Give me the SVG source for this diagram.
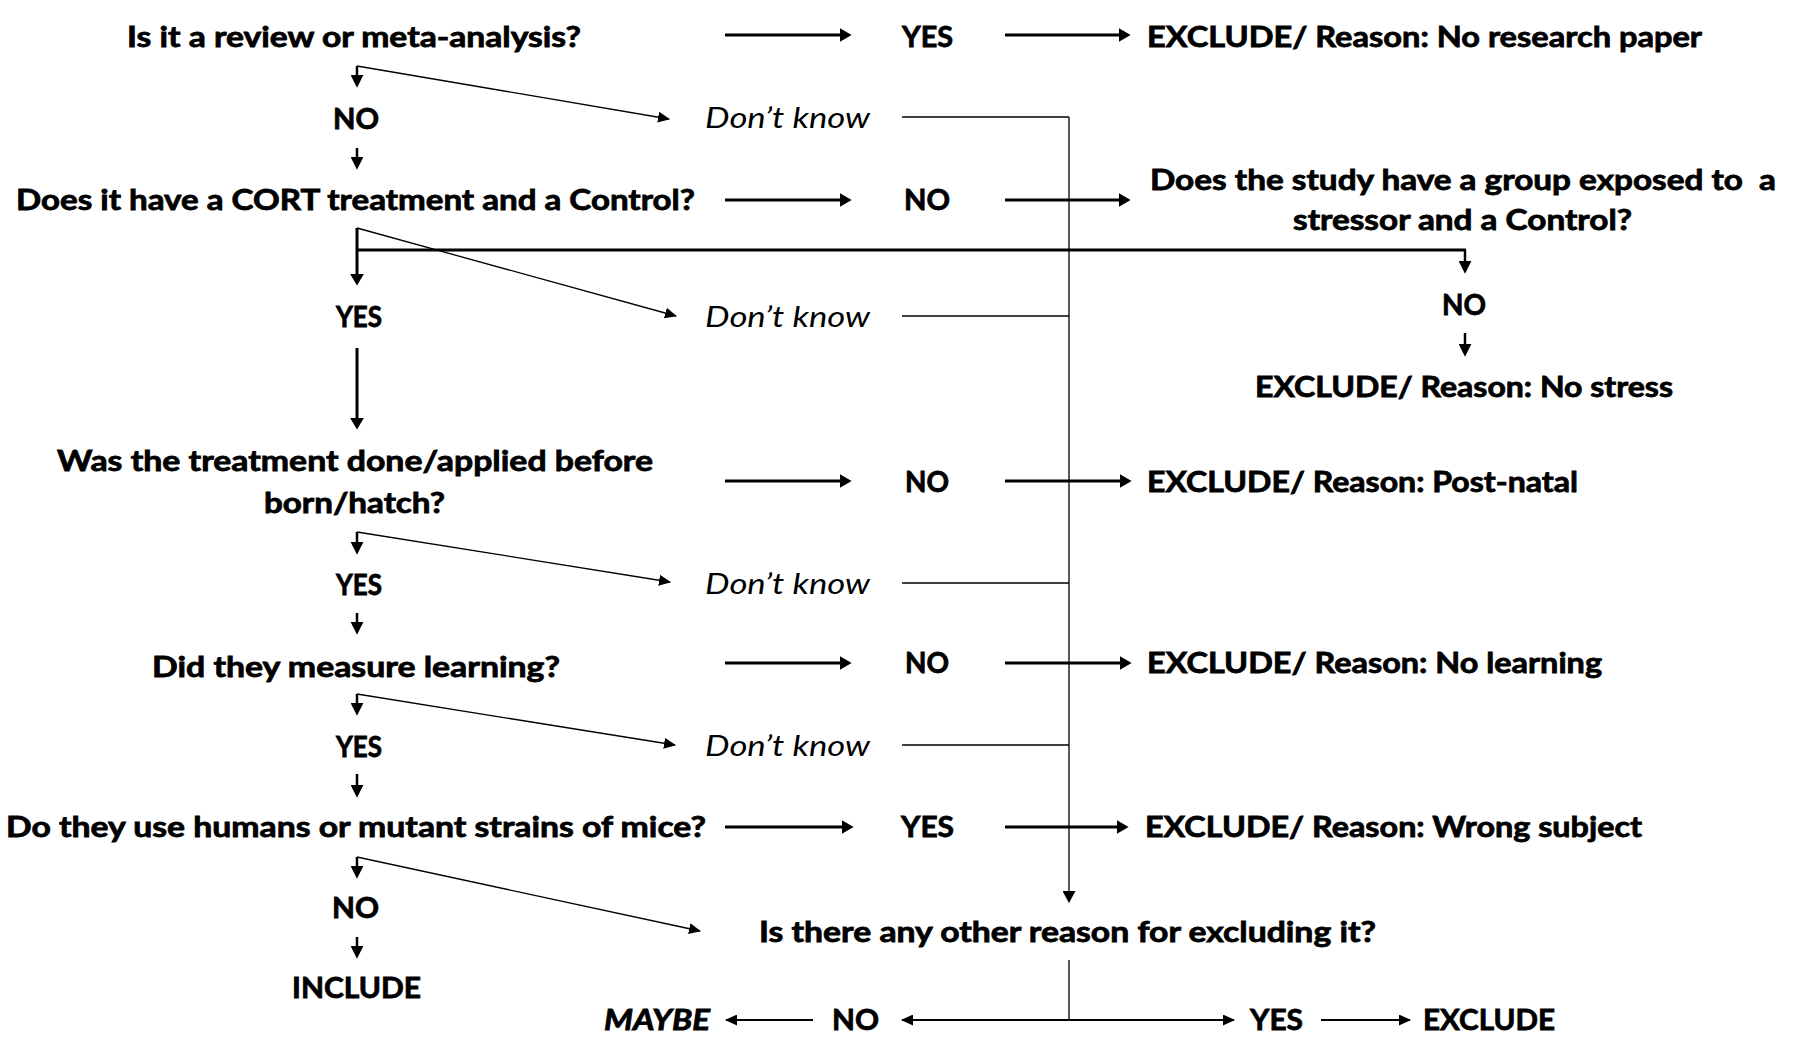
<svg xmlns="http://www.w3.org/2000/svg" width="1795" height="1050" viewBox="0 0 1795 1050">
<style>
text{font-family:Lato,"Open Sans","Liberation Sans",sans-serif;font-size:29px;fill:#000}
.b{font-weight:700;stroke:#000;stroke-width:0.8}
.i{font-style:italic;font-weight:400}
.bi{font-style:italic;font-weight:700;stroke:#000;stroke-width:0.8}
.thick{stroke:#000;stroke-width:3;fill:none}
.mid{stroke:#000;stroke-width:2.5;fill:none}
.thin{stroke:#000;stroke-width:1.3;fill:none}
.bot{stroke:#000;stroke-width:2;fill:none}
</style>
<defs>
<marker id="ah" markerUnits="userSpaceOnUse" markerWidth="12" markerHeight="14" viewBox="0 0 11 13" refX="3" refY="6.5" orient="auto"><path d="M0,0 L11,6.5 L0,13 z" fill="#000"/></marker>
<marker id="as" markerUnits="userSpaceOnUse" markerWidth="13" markerHeight="13" viewBox="0 0 12 12" refX="3" refY="6" orient="auto"><path d="M0,0 L12,6 L0,12 z" fill="#000"/></marker>
<marker id="at" markerUnits="userSpaceOnUse" markerWidth="12" markerHeight="11" viewBox="0 0 12 11" refX="11" refY="5.5" orient="auto"><path d="M0,0 L12,5.5 L0,11 z" fill="#000"/></marker>
<marker id="ab" markerUnits="userSpaceOnUse" markerWidth="12" markerHeight="13" viewBox="0 0 12 13" refX="11" refY="6.5" orient="auto"><path d="M0,0 L12,6.5 L0,13 z" fill="#000"/></marker>
<marker id="ao" markerUnits="userSpaceOnUse" markerWidth="12" markerHeight="11" viewBox="0 0 12 11" refX="11" refY="5.5" orient="auto"><path d="M0,0 L12,5.5 L0,11 z" fill="#000"/></marker>
</defs>
<rect width="1795" height="1050" fill="#fff"/>

<g id="connectors">
<path class="thick" d="M725,35 H843" marker-end="url(#ah)"/>
<path class="thick" d="M1005,35 H1122" marker-end="url(#ah)"/>
<path class="thick" d="M725,200 H843" marker-end="url(#ah)"/>
<path class="thick" d="M1005,200 H1122" marker-end="url(#ah)"/>
<path class="thick" d="M725,481 H843" marker-end="url(#ah)"/>
<path class="thick" d="M1005,481 H1123" marker-end="url(#ah)"/>
<path class="thick" d="M725,663 H843" marker-end="url(#ah)"/>
<path class="thick" d="M1005,663 H1123" marker-end="url(#ah)"/>
<path class="thick" d="M725,827 H845" marker-end="url(#ah)"/>
<path class="thick" d="M1005,827 H1120" marker-end="url(#ah)"/>
<path class="mid" d="M357,66 V78" marker-end="url(#as)"/>
<path class="mid" d="M357,148 V160" marker-end="url(#as)"/>
<path class="thick" d="M357,228 V277" marker-end="url(#ah)"/>
<path class="thick" d="M357,348 V421" marker-end="url(#ah)"/>
<path class="mid" d="M357,532 V545" marker-end="url(#as)"/>
<path class="mid" d="M357,613 V625" marker-end="url(#as)"/>
<path class="mid" d="M357,694 V706" marker-end="url(#as)"/>
<path class="mid" d="M357,774 V788" marker-end="url(#as)"/>
<path class="mid" d="M357,857 V869" marker-end="url(#as)"/>
<path class="mid" d="M357,937 V949" marker-end="url(#as)"/>
<path class="thin" d="M357,66 L669,119" marker-end="url(#at)"/>
<path class="thin" d="M357,228 L676,316" marker-end="url(#at)"/>
<path class="thin" d="M357,532 L670,582" marker-end="url(#at)"/>
<path class="thin" d="M357,694 L675,745" marker-end="url(#at)"/>
<path class="thin" d="M357,857 L700,931" marker-end="url(#at)"/>
<path class="thick" d="M357,250 H1466"/>
<path class="mid" d="M1465,250 V264" marker-end="url(#as)"/>
<path class="mid" d="M1465,333 V347" marker-end="url(#as)"/>
<path class="thin" d="M902,117 H1069"/>
<path class="thin" d="M902,316 H1069"/>
<path class="thin" d="M902,583 H1069"/>
<path class="thin" d="M902,745 H1069"/>
<path class="thin" d="M1069,117 V902" marker-end="url(#ab)"/>
<path class="thin" d="M1069,960 V1020"/>
<path class="bot" d="M1069,1020 H902" marker-end="url(#ao)"/>
<path class="bot" d="M1069,1020 H1234" marker-end="url(#ao)"/>
<path class="bot" d="M813,1020 H726" marker-end="url(#ao)"/>
<path class="bot" d="M1321,1020 H1410" marker-end="url(#ao)"/>
</g>

<g id="q1"><text class="b" x="127" y="47" textLength="454" lengthAdjust="spacingAndGlyphs">Is it a review or meta-analysis?</text></g>
<g id="q1-yes"><text class="b" x="902" y="47" textLength="51" lengthAdjust="spacingAndGlyphs">YES</text></g>
<g id="excl-research"><text class="b" x="1147" y="47" textLength="555" lengthAdjust="spacingAndGlyphs">EXCLUDE/ Reason: No research paper</text></g>
<g id="q1-no"><text class="b" x="333" y="129" textLength="46" lengthAdjust="spacingAndGlyphs">NO</text></g>
<g id="dk1"><text class="i" x="705" y="128" textLength="165" lengthAdjust="spacingAndGlyphs">Don’t know</text></g>

<g id="q2"><text class="b" x="16" y="210" textLength="679" lengthAdjust="spacingAndGlyphs">Does it have a CORT treatment and a Control?</text></g>
<g id="q2-no"><text class="b" x="904" y="210" textLength="46" lengthAdjust="spacingAndGlyphs">NO</text></g>
<g id="q-stressor">
<text class="b" x="1150" y="190" textLength="626" lengthAdjust="spacingAndGlyphs" xml:space="preserve">Does the study have a group exposed to  a</text>
<text class="b" x="1293" y="230" textLength="339" lengthAdjust="spacingAndGlyphs">stressor and a Control?</text>
</g>
<g id="q2-yes"><text class="b" x="336" y="327" textLength="46" lengthAdjust="spacingAndGlyphs">YES</text></g>
<g id="dk2"><text class="i" x="705" y="327" textLength="165" lengthAdjust="spacingAndGlyphs">Don’t know</text></g>
<g id="stressor-no"><text class="b" x="1442" y="315" textLength="44" lengthAdjust="spacingAndGlyphs">NO</text></g>
<g id="excl-stress"><text class="b" x="1255" y="397" textLength="418" lengthAdjust="spacingAndGlyphs">EXCLUDE/ Reason: No stress</text></g>

<g id="q3">
<text class="b" x="57" y="471" textLength="596" lengthAdjust="spacingAndGlyphs">Was the treatment done/applied before</text>
<text class="b" x="264" y="513" textLength="181" lengthAdjust="spacingAndGlyphs">born/hatch?</text>
</g>
<g id="q3-no"><text class="b" x="905" y="492" textLength="44" lengthAdjust="spacingAndGlyphs">NO</text></g>
<g id="excl-postnatal"><text class="b" x="1147" y="492" textLength="431" lengthAdjust="spacingAndGlyphs">EXCLUDE/ Reason: Post-natal</text></g>
<g id="q3-yes"><text class="b" x="336" y="595" textLength="46" lengthAdjust="spacingAndGlyphs">YES</text></g>
<g id="dk3"><text class="i" x="705" y="594" textLength="165" lengthAdjust="spacingAndGlyphs">Don’t know</text></g>

<g id="q4"><text class="b" x="152" y="677" textLength="408" lengthAdjust="spacingAndGlyphs">Did they measure learning?</text></g>
<g id="q4-no"><text class="b" x="905" y="673" textLength="44" lengthAdjust="spacingAndGlyphs">NO</text></g>
<g id="excl-learning"><text class="b" x="1147" y="673" textLength="455" lengthAdjust="spacingAndGlyphs">EXCLUDE/ Reason: No learning</text></g>
<g id="q4-yes"><text class="b" x="336" y="757" textLength="46" lengthAdjust="spacingAndGlyphs">YES</text></g>
<g id="dk4"><text class="i" x="705" y="756" textLength="165" lengthAdjust="spacingAndGlyphs">Don’t know</text></g>

<g id="q5"><text class="b" x="6" y="837" textLength="700" lengthAdjust="spacingAndGlyphs">Do they use humans or mutant strains of mice?</text></g>
<g id="q5-yes"><text class="b" x="901" y="837" textLength="53" lengthAdjust="spacingAndGlyphs">YES</text></g>
<g id="excl-subject"><text class="b" x="1145" y="837" textLength="497" lengthAdjust="spacingAndGlyphs">EXCLUDE/ Reason: Wrong subject</text></g>
<g id="q5-no"><text class="b" x="332" y="918" textLength="47" lengthAdjust="spacingAndGlyphs">NO</text></g>
<g id="q6"><text class="b" x="759" y="942" textLength="617" lengthAdjust="spacingAndGlyphs">Is there any other reason for excluding it?</text></g>
<g id="include"><text class="b" x="292" y="998" textLength="129" lengthAdjust="spacingAndGlyphs">INCLUDE</text></g>

<g id="maybe"><text class="bi" x="604" y="1030" textLength="106" lengthAdjust="spacingAndGlyphs">MAYBE</text></g>
<g id="q6-no"><text class="b" x="832" y="1030" textLength="47" lengthAdjust="spacingAndGlyphs">NO</text></g>
<g id="q6-yes"><text class="b" x="1250" y="1030" textLength="53" lengthAdjust="spacingAndGlyphs">YES</text></g>
<g id="exclude-final"><text class="b" x="1423" y="1030" textLength="132" lengthAdjust="spacingAndGlyphs">EXCLUDE</text></g>
</svg>
